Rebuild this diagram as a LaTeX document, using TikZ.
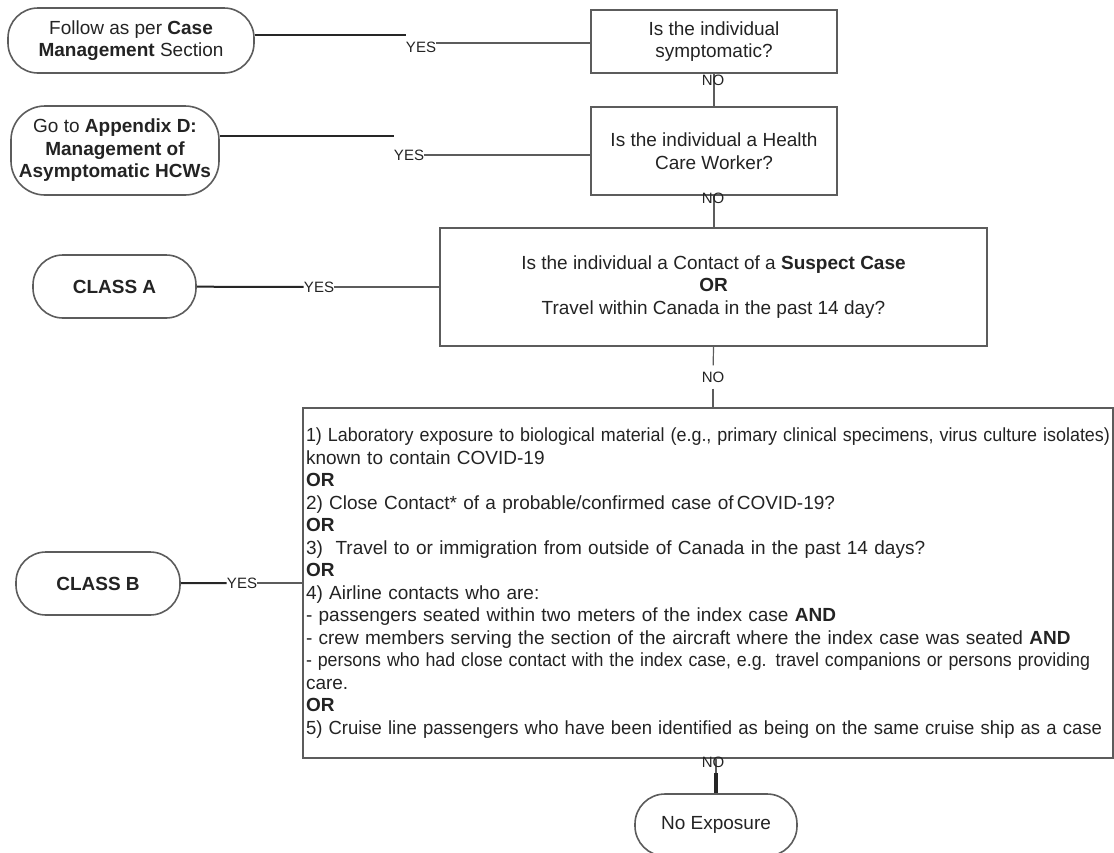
\documentclass[tikz,border=0pt]{standalone}
\usepackage{fontspec}
\setmainfont{Liberation Sans}
\usepackage{graphicx}

\definecolor{boxline}{HTML}{5C5C5C}
\definecolor{ink}{HTML}{232323}
\newcommand{\squeezeline}[2]{\resizebox{#1}{\height}{#2}}

\begin{document}
\begin{tikzpicture}[x=0.5pt,y=-0.5pt,
  every node/.style={text=ink, font=\fontsize{9.5}{11.25}\selectfont},
  terminal/.style={draw=boxline, line width=0.8pt, rounded corners=15pt, align=center, inner sep=1pt},
  decision/.style={draw=boxline, line width=0.8pt, align=center, inner sep=1pt},
  answer/.style={font=\fontsize{7.5}{8}\selectfont, inner sep=0pt},
  lead/.style={line width=1pt, draw=black!85},
  link/.style={line width=0.6pt, draw=boxline}]

  \useasboundingbox (0,0) rectangle (1114,852);

  % Questions
  \node[decision, minimum width=123pt, minimum height=31.5pt] (sym) at (714,41.5)
    {Is the individual\\symptomatic?};
  \node[decision, minimum width=123pt, minimum height=44pt] (hcw) at (714,151)
    {Is the individual a Health\\Care Worker?};
  \node[decision, minimum width=273.5pt, minimum height=59pt] (sus) at (713.5,287)
    {Is the individual a Contact of a \textbf{Suspect Case}\\\textbf{OR}\\Travel within Canada in the past 14 day?};
  \node[decision, align=left, text width=402pt, inner xsep=1.5pt, minimum height=175pt] (crit) at (708,583)
    {\squeezeline{402pt}{1) Laboratory exposure to biological material (e.g., primary clinical specimens, virus culture isolates)}\\
     known to contain COVID-19\\
     \textbf{OR}\\
     2) Close Contact* of a probable/confirmed case of\,COVID-19?\\
     \textbf{OR}\\
     3)~~Travel to or immigration from outside of Canada in the past 14 days?\\
     \textbf{OR}\\
     4) Airline contacts who are:\\
     - passengers seated within two meters of the index case \textbf{AND}\\
     - crew members serving the section of the aircraft where the index case was seated \textbf{AND}\\
     \squeezeline{392pt}{- persons who had close contact with the index case, e.g. travel companions or persons providing}\\
     care.\\
     \textbf{OR}\\
     \squeezeline{398pt}{5) Cruise line passengers who have been identified as being on the same cruise ship as a case}};

  % Outcomes
  \node[terminal, minimum width=123pt, minimum height=32.5pt] (fol) at (131,40.5)
    {Follow as per \textbf{Case}\\\textbf{Management} Section};
  \node[terminal, rounded corners=17pt, minimum width=104pt, minimum height=44.5pt] (app) at (115,150.5)
    {Go to \textbf{Appendix D:}\\\textbf{Management of}\\\textbf{Asymptomatic HCWs}};
  \node[terminal, minimum width=81.5pt, minimum height=31.5pt] (clA) at (114.5,286.5) {\textbf{CLASS A}};
  \node[terminal, minimum width=82pt, minimum height=31.5pt] (clB) at (98,583.5) {\textbf{CLASS B}};
  \node[terminal, minimum width=81pt, minimum height=31pt] (noexp) at (716,825) {No Exposure};

  % YES branches
  \node[answer] (yes1) at (421,47) {YES};
  \draw[lead] (fol.east |- 0,35) -- (yes1.west |- 0,35);
  \draw[link] (yes1.east |- 0,43) -- (sym.west |- 0,43);

  \node[answer] (yes2) at (409,155) {YES};
  \draw[lead] (app.east |- 0,136) -- (yes2.west |- 0,136);
  \draw[link] (yes2.east) -- (yes2.east -| hcw.west);

  \node[answer] (yes3) at (319,287) {YES};
  \draw[lead] (clA) -- (yes3);
  \draw[link] (yes3) -- (sus);

  \node[answer] (yes4) at (242,583) {YES};
  \draw[lead] (clB) -- (yes4);
  \draw[link] (yes4) -- (crit);

  % NO branches
  \draw[link] (sym) -- (hcw);
  \node[answer] (no1) at (713,80) {NO};
  \draw[link] (hcw) -- (hcw.south |- sus.north);
  \node[answer] (no2) at (713,198) {NO};
  \node[answer, fill=white, inner ysep=3pt] (no3) at (713,377) {NO};
  \draw[link] (sus.south) -- (no3);
  \draw[link] (no3) -- (no3 |- crit.north);
  \draw[link] (noexp.north |- crit.south) -- (noexp.north);
  \draw[lead, line width=1.6pt] (noexp.north) -- ++(0,-20);
  \node[answer] (no4) at (713,762) {NO};

\end{tikzpicture}
\end{document}
